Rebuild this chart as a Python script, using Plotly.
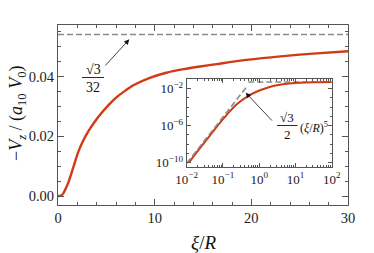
import plotly.graph_objects as go

# ---- data ----
main_x = [0, 0.3, 0.55, 0.8, 1.07, 1.35, 1.6, 2.1, 2.6, 3.2, 3.8, 4.5, 5.3,
          6.1, 7.0, 7.8, 9.5, 11.2, 13.0, 14.7, 16.4, 19.5, 23.0, 26.4, 30.0]
main_y = [0, 0.0001, 0.0009, 0.0025, 0.0045, 0.0072, 0.0098, 0.0148, 0.01855,
          0.0220, 0.0249, 0.0278, 0.0307, 0.0332, 0.0354, 0.0371, 0.0396,
          0.0413, 0.0425, 0.0434, 0.0442, 0.0456, 0.0468, 0.0477, 0.0485]
asym_value = 0.0541          # sqrt(3)/32
asym_x = [0, 30]

inset_x = [0.0116, 0.02, 0.037, 0.07, 0.13, 0.25, 0.48, 0.9, 1.6, 2.8, 5, 10,
           20, 50, 100]
inset_y = [1.12e-10, 1.78e-9, 3.8e-8, 8.9e-7, 1.66e-5, 2.31e-4, 1.5e-3, 5.3e-3,
           1.19e-2, 2.19e-2, 3.31e-2, 4.27e-2, 4.79e-2, 5.07e-2, 5.19e-2]
powerlaw_x = [0.01, 0.45]
powerlaw_y = [8.7e-11, 1.6e-2]
inset_asym_x = [0.5, 100]

x_major = [0, 10, 20, 30]
x_minor = [2, 4, 6, 8, 12, 14, 16, 18, 22, 24, 26, 28]
y_major = [0, 0.02, 0.04]
y_major_text = ["0.00", "0.02", "0.04"]
y_minor = [0.005, 0.01, 0.015, 0.025, 0.03, 0.035, 0.045, 0.05, 0.055]

ix_major = [0.01, 0.1, 1, 10, 100]
ix_text = ["10<sup>−2</sup>", "10<sup>−1</sup>", "10<sup>0</sup>",
           "10<sup>1</sup>", "10<sup>2</sup>"]
iy_major = [1e-2, 1e-6, 1e-10]
iy_text = ["10<sup>−2</sup>", "10<sup>−6</sup>", "10<sup>−10</sup>"]

RED = "#D03A14"
GRAY = "#8a8a8a"
FRAME = "#555555"
FONT = "Liberation Serif"
DASH = "6px,3px"

W, H = 374, 253
L, R, T, B = 58, 348, 25, 205


def px(xp, yp):
    return (xp - L) / (R - L), (B - yp) / (B - T)


fig = go.Figure()
fig.add_trace(go.Scatter(x=asym_x, y=[asym_value, asym_value], mode="lines",
                         line=dict(color=GRAY, width=1.6, dash=DASH),
                         xaxis="x", yaxis="y", hoverinfo="skip"))
fig.add_trace(go.Scatter(x=main_x, y=main_y, mode="lines",
                         line=dict(color=RED, width=2.4, shape="spline",
                                   smoothing=0.8),
                         xaxis="x", yaxis="y"))
fig.add_trace(go.Scatter(x=inset_asym_x, y=[asym_value, asym_value], mode="lines",
                         line=dict(color=GRAY, width=1.6, dash=DASH),
                         xaxis="x2", yaxis="y2"))
fig.add_trace(go.Scatter(x=inset_x, y=inset_y, mode="lines",
                         line=dict(color=RED, width=2.0, shape="spline",
                                   smoothing=0.8),
                         xaxis="x2", yaxis="y2"))
fig.add_trace(go.Scatter(x=powerlaw_x, y=powerlaw_y, mode="lines",
                         line=dict(color=GRAY, width=1.6, dash=DASH),
                         xaxis="x2", yaxis="y2"))

ix_minor = [m * 10 ** e for e in range(-2, 2) for m in range(2, 10)]
iy_minor = [10.0 ** e for e in range(-10, 0) if e not in (-2, -6, -10)]

common = dict(showgrid=False, zeroline=False, showline=True, linecolor=FRAME,
              linewidth=1, ticks="inside", tickcolor=FRAME, mirror="ticks")

x0, y0 = px(186.7, 167)
x1, y1 = px(331.7, 79.3)

fig.update_layout(
    width=W, height=H,
    margin=dict(l=L, r=W - R, t=T, b=H - B),
    paper_bgcolor="white", plot_bgcolor="white",
    showlegend=False,
    font=dict(family=FONT, color="#222222", size=14),
    xaxis=dict(domain=[0, 1], range=[0, 30], tickvals=x_major, ticklen=6,
               minor=dict(tickvals=x_minor, ticklen=3, ticks="inside",
                          tickcolor=FRAME),
               tickfont=dict(size=14.5), **common),
    yaxis=dict(domain=[0, 1], range=[-0.003, 0.0573], tickvals=y_major,
               ticktext=y_major_text, ticklen=6,
               minor=dict(tickvals=y_minor, ticklen=3, ticks="inside",
                          tickcolor=FRAME),
               tickfont=dict(size=14.5), **common),
    xaxis2=dict(domain=[x0, x1], anchor="y2", type="log", range=[-2, 2],
                tickvals=ix_major, ticktext=ix_text, ticklen=4,
                minor=dict(tickvals=ix_minor, ticklen=2, ticks="inside",
                           tickcolor=FRAME),
                tickfont=dict(size=13), **common),
    yaxis2=dict(domain=[y0, y1], anchor="x2", type="log", range=[-10.46, -0.98],
                tickvals=iy_major, ticktext=iy_text, ticklen=4,
                minor=dict(tickvals=iy_minor, ticklen=2, ticks="inside",
                           tickcolor=FRAME),
                tickfont=dict(size=13), **common),
)

ann = []
shapes = []


def text(xp, yp, s, size=13, xanchor="center", angle=0):
    xx, yy = px(xp, yp)
    ann.append(dict(x=xx, y=yy, xref="paper", yref="paper", text=s,
                    showarrow=False, xanchor=xanchor, yanchor="middle",
                    textangle=angle, font=dict(family=FONT, size=size,
                                               color="#111111")))


def bar(xa, xb, yp):
    a, yy = px(xa, yp)
    b, _ = px(xb, yp)
    shapes.append(dict(type="line", xref="paper", yref="paper", x0=a, x1=b,
                       y0=yy, y1=yy, line=dict(color="#111111", width=0.9)))


def arrow(tip, tail):
    xx, yy = px(*tip)
    ann.append(dict(x=xx, y=yy, xref="paper", yref="paper", text="",
                    showarrow=True, ax=tail[0] - tip[0], ay=tail[1] - tip[1],
                    arrowhead=2, arrowsize=1.3, arrowwidth=0.8,
                    arrowcolor="#111111"))


# sqrt(3)/32 label
text(93, 69, "√3", 14)
bar(82, 104, 77.5)
text(93, 87, "32", 14)
arrow((129.3, 39.3), (104, 67))

# sqrt(3)/2 (xi/R)^5 label
text(287, 117.5, "√3", 13)
bar(277, 297.5, 125.5)
text(287, 134, "2", 13)
text(297.5, 127, "(<i>ξ</i>/<i>R</i>)<sup>5</sup>", 12, xanchor="left")
arrow((245.7, 92.7), (273.3, 122))

# axis titles
text(203, 243, "<i>ξ</i>/<i>R</i>", 19)
text(17, 114, "−<i>V<sub>z</sub></i> / (<i>a</i><sub>10</sub> <i>V</i><sub>0</sub>)",
     18, angle=-90)

fig.update_layout(annotations=ann, shapes=shapes)
fig.write_html("out.html", config={"displayModeBar": False},
               post_script="document.body.style.margin='0';")
